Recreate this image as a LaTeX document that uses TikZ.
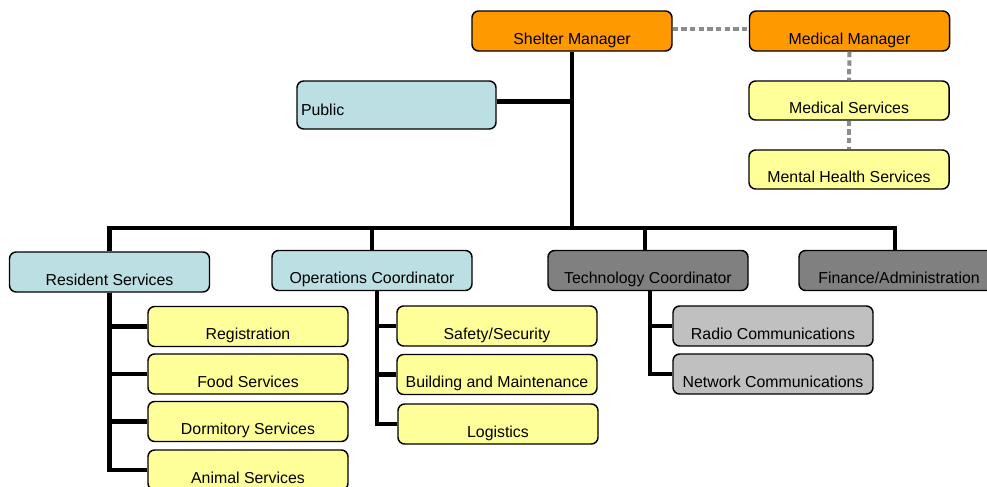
\documentclass[tikz,border=0pt]{standalone}
\usepackage{fontspec}
\setmainfont{Liberation Sans}
\definecolor{mgrorange}{HTML}{FF9900}
\definecolor{paleblue}{HTML}{BBDFE2}
\definecolor{paleyellow}{HTML}{FFFF99}
\definecolor{darkgrey}{HTML}{808080}
\definecolor{lightgrey}{HTML}{C0C0C0}
\definecolor{dotgrey}{HTML}{8C8C8C}
\begin{document}
\begin{tikzpicture}[x=0.75pt,y=-0.75pt,
  box/.style={draw=black, line width=1.1pt, rounded corners=5pt, inner sep=0pt,
    minimum width=150pt, minimum height=30pt, text height=19.5pt, text depth=0pt,
    font=\fontsize{11.9}{14}\selectfont},
  orangebox/.style={box, fill=mgrorange},
  bluebox/.style={box, fill=paleblue},
  yellowbox/.style={box, fill=paleyellow},
  darkbox/.style={box, fill=darkgrey},
  greybox/.style={box, fill=lightgrey},
  conn/.style={line width=3.6pt, black},
  dotline/.style={line width=3pt, dotgrey, dash pattern=on 4pt off 2.5pt}]

\useasboundingbox (0,0) rectangle (987,486);
\clip (0,0) rectangle (987,486);
\fill[white] (0,0) rectangle (987,486);

% management row
\node[orangebox] (shelter) at (572,31) {Shelter Manager};
\node[orangebox] (medmgr) at (849.5,31) {Medical Manager};
\node[yellowbox, minimum height=29.25pt] (medsvc) at (849,100.5) {Medical Services};
\node[yellowbox, minimum height=29.25pt] (mental) at (849,169.5) {Mental Health Services};
\node[bluebox, minimum width=149.25pt, minimum height=36pt, text height=15pt,
  text width=143.25pt, align=left, inner xsep=3pt] (public) at (396.5,105) {Public};

% coordinators
\node[bluebox] (resident) at (109.5,272) {Resident Services};
\node[bluebox] (ops) at (372,270.5) {Operations Coordinator};
\node[darkbox] (tech) at (648,270.5) {Technology Coordinator};
\node[darkbox] (finance) at (899,270.5) {Finance/Administration};

% resident services units
\node[yellowbox] (reg) at (248,326.5) {Registration};
\node[yellowbox] (food) at (248,374) {Food Services};
\node[yellowbox] (dorm) at (248,421.5) {Dormitory Services};
\node[yellowbox] (animal) at (248,470) {Animal Services};

% operations units
\node[yellowbox] (safety) at (497,326) {Safety/Security};
\node[yellowbox] (building) at (497,374.5) {Building and Maintenance};
\node[yellowbox] (logistics) at (498,424) {Logistics};

% technology units
\node[greybox] (radio) at (773,326) {Radio Communications};
\node[greybox] (network) at (773,374) {Network Communications};

% reporting lines
\coordinate (bus) at (572,228);
\draw[conn] (shelter.south) -- (bus);
\draw[conn] ([yshift=2.5pt]public.east) -- ([yshift=2.5pt]public.east -| shelter.south);
\draw[conn] (resident.north) |- (bus) -| ([xshift=-3pt]finance.north);
\draw[conn] (ops.north) -- (ops.north |- bus);
\draw[conn] ([xshift=-2.25pt]tech.north) -- ([xshift=-2.25pt]tech.north |- bus);

\draw[conn] (resident.south) |- (reg.west);
\draw[conn] (resident.south) |- (food.west);
\draw[conn] (resident.south) |- (dorm.west);
\draw[conn] (resident.south) |- (animal.west);

\draw[conn] ([xshift=3.75pt]ops.south) |- (safety.west);
\draw[conn] ([xshift=3.75pt]ops.south) |- (building.west);
\draw[conn] ([xshift=3.75pt]ops.south) |- (logistics.west);

\draw[conn] ([xshift=1.5pt]tech.south) |- (radio.west);
\draw[conn] ([xshift=1.5pt]tech.south) |- (network.west);

% advisory links
\draw[dotline] ([yshift=1.5pt]shelter.east) -- ([yshift=1.5pt]medmgr.west);
\draw[dotline] (medmgr.south) -- (medsvc.north);
\draw[dotline] (medsvc.south) -- (mental.north);
\end{tikzpicture}
\end{document}
